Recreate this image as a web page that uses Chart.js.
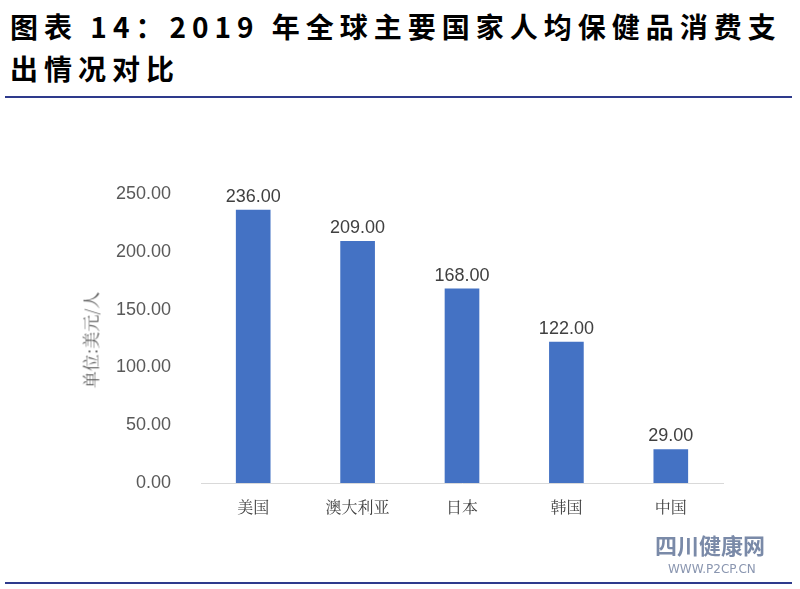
<!DOCTYPE html>
<html><head><meta charset="utf-8">
<script src="https://cdn.jsdelivr.net/npm/chart.js@4/dist/chart.umd.min.js"></script>
<style>
body{margin:0;width:800px;height:589px;background:#fff;position:relative;overflow:hidden;font-family:"Noto Sans CJK SC";}
#title{position:absolute;left:10px;top:5px;font-size:28px;font-weight:bold;line-height:42px;color:#000;letter-spacing:6px;}
.rule{position:absolute;left:5px;width:787px;height:2px;background:#2e3a8c;}
#wm{position:absolute;left:655px;top:528px;color:#7a8aa8;font-weight:bold;font-size:22px;}
#wm2{position:absolute;left:668px;top:562px;color:#8a96b0;font-size:12px;font-family:"DejaVu Sans";}
#ytitle{position:absolute;left:90px;top:340px;transform:translate(-50%,-50%) rotate(-90deg);font-size:17px;color:#595959;white-space:nowrap;font-family:"Noto Serif CJK SC","Noto Sans CJK SC";}
canvas{position:absolute;left:0;top:0;}
</style></head><body>
<div id="title">图表 14：2019 年全球主要国家人均保健品消费支<br>出情况对比</div>
<div class="rule" style="top:96px"></div>
<div class="rule" style="top:582px"></div>
<canvas id="c" width="800" height="589"></canvas>
<div id="ytitle">单位:美元/人</div>
<div id="wm">四川健康网</div>
<div id="wm2">WWW.P2CP.CN</div>
<script>
// 数据
const countries = ['美国', '澳大利亚', '日本', '韩国', '中国'];
const spending = [236, 209, 168, 122, 29];

const valueLabels = {
    id: 'valueLabels',
    afterDatasetsDraw(chart) {
        const ctx = chart.ctx;
        ctx.save();
        ctx.font = '18px "Liberation Sans"';
        ctx.fillStyle = '#404040';
        ctx.textAlign = 'center';
        ctx.textBaseline = 'bottom';
        chart.getDatasetMeta(0).data.forEach((bar, i) => {
            ctx.fillText(spending[i].toFixed(2), bar.x, bar.y - 4);
        });
        ctx.restore();
    }
};

new Chart(document.getElementById('c'), {
    type: 'bar',
    data: {
        labels: countries,
        datasets: [{ data: spending, backgroundColor: '#4472C4', barThickness: 34 }]
    },
    options: {
        responsive: false,
        animation: false,
        layout: { padding: { top: 194, right: 77, bottom: 0, left: 0 } },
        plugins: { legend: { display: false }, tooltip: { enabled: false } },
        scales: {
            x: {
                grid: { display: false },
                border: { color: '#d9d9d9' },
                ticks: { color: '#404040', font: { size: 16, family: '"Noto Serif CJK SC", "Noto Sans CJK SC"' }, padding: 6 },
                afterFit(s) { s.height = 106; }
            },
            y: {
                min: 0, max: 250,
                ticks: { stepSize: 50, color: '#595959', font: { size: 18, family: '"Liberation Sans"' }, callback: v => v.toFixed(2), padding: 22 },
                grid: { display: false },
                border: { display: false },
                afterFit(s) { s.width = 201; }
            }
        }
    },
    plugins: [valueLabels]
});
</script>
</body></html>
